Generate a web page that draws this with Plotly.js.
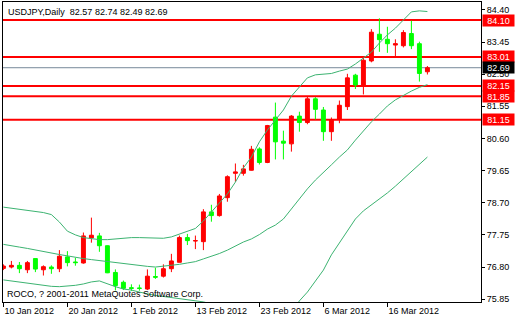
<!DOCTYPE html>
<html>
<head>
<meta charset="utf-8">
<script src="https://cdn.plot.ly/plotly-3.0.1.min.js"></script>
<style>html,body{margin:0;padding:0;background:#fff;}#chart{width:520px;height:320px;}</style>
</head>
<body>
<div id="chart"></div>
<script>
var dates = ["10 Jan 2012","11 Jan 2012","12 Jan 2012","13 Jan 2012","16 Jan 2012","17 Jan 2012","18 Jan 2012","19 Jan 2012","20 Jan 2012","23 Jan 2012","24 Jan 2012","25 Jan 2012","26 Jan 2012","27 Jan 2012","30 Jan 2012","31 Jan 2012","1 Feb 2012","2 Feb 2012","3 Feb 2012","6 Feb 2012","7 Feb 2012","8 Feb 2012","9 Feb 2012","10 Feb 2012","13 Feb 2012","14 Feb 2012","15 Feb 2012","16 Feb 2012","17 Feb 2012","20 Feb 2012","21 Feb 2012","22 Feb 2012","23 Feb 2012","24 Feb 2012","27 Feb 2012","28 Feb 2012","29 Feb 2012","1 Mar 2012","2 Mar 2012","5 Mar 2012","6 Mar 2012","7 Mar 2012","8 Mar 2012","9 Mar 2012","12 Mar 2012","13 Mar 2012","14 Mar 2012","15 Mar 2012","16 Mar 2012","19 Mar 2012","20 Mar 2012","21 Mar 2012","22 Mar 2012","23 Mar 2012"];
var openP = [76.76,76.80,76.85,76.72,77.05,76.72,76.80,76.75,77.10,76.95,76.92,77.66,77.72,77.43,76.64,76.35,76.19,76.18,76.15,76.52,76.53,76.75,76.94,77.67,77.57,77.55,78.43,78.32,78.85,79.57,79.57,79.66,80.29,79.89,81.23,80.52,80.44,81.26,81.07,81.77,81.44,80.80,81.16,81.54,82.47,82.16,82.89,83.68,83.53,83.36,83.34,83.70,83.40,82.57];
var highP = [76.88,76.98,76.95,76.98,77.05,76.85,76.85,77.30,77.27,77.07,77.82,78.26,77.81,77.44,76.73,76.40,76.29,76.28,76.73,76.78,76.88,77.19,77.73,77.78,77.73,78.51,78.64,78.96,79.51,79.86,79.82,80.38,80.34,81.00,81.66,80.83,81.29,81.39,81.83,81.82,81.53,81.22,81.72,82.51,82.51,83.02,83.83,84.15,83.90,83.53,83.80,84.08,83.46,82.74];
var lowP = [76.71,76.76,76.62,76.62,76.65,76.55,76.60,76.65,76.82,76.84,76.90,77.52,77.25,76.62,76.11,76.12,76.09,76.10,76.12,76.45,76.49,76.65,76.94,77.45,77.33,77.30,78.14,78.29,78.73,79.32,79.50,79.65,79.83,79.87,79.98,79.98,80.21,80.80,81.02,81.16,80.53,80.53,81.05,81.44,82.06,81.90,82.85,83.16,83.13,83.02,83.29,83.24,82.28,82.49];
var closeP = [76.83,76.85,76.75,76.93,76.74,76.81,76.75,77.12,76.93,76.93,77.72,77.74,77.43,76.63,76.25,76.17,76.17,76.17,76.53,76.50,76.75,76.98,77.67,77.58,77.58,78.43,78.32,78.90,79.47,79.61,79.70,80.28,79.89,80.98,80.50,80.46,81.26,81.07,81.77,81.46,80.80,81.14,81.58,82.39,82.18,82.91,83.74,83.52,83.40,83.40,83.73,83.34,82.52,82.69];
var bbUpper = [78.57,78.54,78.51,78.49,78.46,78.41,78.35,78.13,77.86,77.75,77.67,77.63,77.61,77.61,77.63,77.66,77.67,77.67,77.67,77.66,77.65,77.69,77.78,77.86,77.94,78.16,78.43,78.69,78.96,79.31,79.73,80.05,80.50,80.85,81.15,81.44,81.85,82.12,82.39,82.48,82.50,82.52,82.59,82.65,82.80,82.98,83.15,83.42,83.66,83.86,84.10,84.34,84.37,84.35];
var bbMiddle = [77.47,77.44,77.39,77.35,77.30,77.26,77.21,77.17,77.13,77.08,77.05,77.02,76.99,76.96,76.92,76.89,76.86,76.83,76.82,76.80,76.82,76.85,76.88,76.92,76.96,77.04,77.11,77.20,77.30,77.42,77.54,77.63,77.76,77.92,78.04,78.22,78.52,78.81,79.11,79.37,79.61,79.82,80.05,80.26,80.55,80.82,81.09,81.32,81.56,81.74,81.88,82.00,82.11,82.19];
var bbLower = [76.42,76.39,76.36,76.31,76.28,76.25,76.23,76.22,76.23,76.26,76.30,76.36,76.39,76.30,76.22,76.15,76.12,76.06,76.00,75.96,75.93,75.90,75.87,75.84,75.81,75.77,75.71,75.59,75.47,75.32,75.18,75.03,74.94,74.88,74.91,75.09,75.44,75.80,76.06,76.39,76.71,77.16,77.51,77.89,78.22,78.46,78.63,78.81,78.99,79.19,79.40,79.61,79.84,80.05];
var levels = [84.10, 83.01, 82.15, 81.85, 81.15];
var bidPrice = 82.69;
var yTicks = [84.40, 83.45, 82.50, 81.55, 80.60, 79.65, 78.70, 77.75, 76.80, 75.85];
var xTickIdx = [0, 8, 16, 24, 32, 40, 48];
var symbolTitle = "USDJPY,Daily\u00a0\u00a082.57 82.74 82.49 82.69";
var copyrightText = "ROCO, ? 2001-2011 MetaQuotes Software Corp.";

var FONT = "'Liberation Sans', Arial, sans-serif";
var idx = dates.map(function(d, i){ return i; });
var bandColor = '#3CB371';

var traces = [
  {type:'scatter', mode:'lines', x:idx, y:bbUpper, line:{color:bandColor, width:1}, hoverinfo:'skip'},
  {type:'scatter', mode:'lines', x:idx, y:bbMiddle, line:{color:bandColor, width:1}, hoverinfo:'skip'},
  {type:'scatter', mode:'lines', x:idx, y:bbLower, line:{color:bandColor, width:1}, hoverinfo:'skip'},
  {type:'candlestick', x:idx, open:openP, high:highP, low:lowP, close:closeP,
   increasing:{line:{color:'#FF0000', width:1}, fillcolor:'#FF0000'},
   decreasing:{line:{color:'#00FF00', width:1}, fillcolor:'#00FF00'},
   whiskerwidth:0, hoverinfo:'skip'}
];

var shapes = levels.map(function(v){
  return {type:'line', xref:'paper', x0:0, x1:1, yref:'y', y0:v, y1:v, line:{color:'#FF0000', width:2}, layer:'below'};
});
shapes.push({type:'line', xref:'paper', x0:0, x1:1, yref:'y', y0:bidPrice, y1:bidPrice, line:{color:'#778899', width:1}, layer:'below'});

var annotations = levels.map(function(v){
  return {xref:'paper', x:1, xanchor:'left', xshift:1, yref:'y', y:v, yanchor:'middle',
    text:v.toFixed(2), showarrow:false, bgcolor:'#FF0000', width:29, height:9, borderpad:1,
    font:{family:FONT, size:9, color:'#FFFFFF'}};
});
annotations.push({xref:'paper', x:1, xanchor:'left', xshift:1, yref:'y', y:bidPrice, yanchor:'middle',
  text:bidPrice.toFixed(2), showarrow:false, bgcolor:'#000000', width:29, height:9, borderpad:1,
  font:{family:FONT, size:9, color:'#FFFFFF'}});
annotations.push({xref:'paper', x:0, xanchor:'left', xshift:3, yref:'paper', y:1, yanchor:'top', yshift:-3,
  text:symbolTitle, showarrow:false, font:{family:FONT, size:9, color:'#000000'}});
annotations.push({xref:'paper', x:0, xanchor:'left', xshift:2, yref:'paper', y:0, yanchor:'bottom', yshift:1,
  text:copyrightText, showarrow:false, font:{family:FONT, size:9, color:'#000000'}});

var layout = {
  width:520, height:320,
  margin:{l:3, r:39, t:2, b:18, pad:0},
  paper_bgcolor:'#FFFFFF', plot_bgcolor:'#FFFFFF',
  showlegend:false,
  xaxis:{type:'linear', range:[-0.05, 59.7], tickmode:'array', tickvals:xTickIdx,
    ticktext:xTickIdx.map(function(i){ return dates[i]; }),
    ticks:'outside', ticklen:4, tickcolor:'#000', ticklabelposition:'outside right',
    showline:true, mirror:true, linecolor:'#000', linewidth:1,
    showgrid:false, zeroline:false, rangeslider:{visible:false}, fixedrange:true,
    tickfont:{family:FONT, size:9, color:'#000'}},
  yaxis:{side:'right', range:[75.767, 84.632], tickmode:'array', tickvals:yTicks,
    tickformat:'.2f', ticks:'outside', ticklen:3, tickcolor:'#000',
    showline:true, mirror:true, linecolor:'#000', linewidth:1,
    showgrid:false, zeroline:false, fixedrange:true,
    tickfont:{family:FONT, size:9, color:'#000'}},
  shapes:shapes,
  annotations:annotations,
  boxgap:0.3
};

Plotly.newPlot('chart', traces, layout, {staticPlot:true, displayModeBar:false});
</script>
</body>
</html>
